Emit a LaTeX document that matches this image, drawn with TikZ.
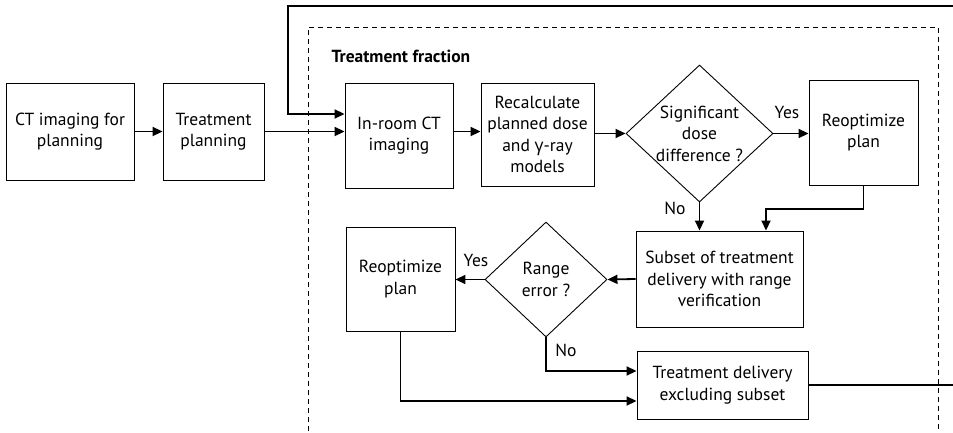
\documentclass[tikz,border=0pt]{standalone}
\usepackage{fontspec}
\setmainfont{PT Sans}
\newfontfamily\greekfont{Open Sans}
\usetikzlibrary{arrows.meta,shapes.geometric}
\begin{document}
\begin{tikzpicture}[x=1pt,y=-1pt,
  every node/.style={font=\fontsize{17.5}{21.5}\selectfont},
  procbox/.style={draw, line width=0.9pt, align=center, inner sep=0pt},
  decision/.style={draw, diamond, line width=0.9pt, inner sep=0pt},
  conn/.style={line width=1.8pt, -{Triangle[length=10pt,width=9pt]}},
  plainline/.style={line width=1.8pt},
  frame/.style={line width=0.8pt, dash pattern=on 5pt off 4pt}
]
\useasboundingbox (0,0) rectangle (953,433);

% treatment fraction frame (open at the bottom)
\draw[frame] (308,440) -- (308,27) -- (938,27) -- (938,440);
\node[anchor=west, font=\fontsize{17.5}{21.5}\selectfont\bfseries] (fractitle) at (328,56) {Treatment fraction};

% process boxes
\node[procbox, minimum width=128pt, minimum height=97pt] (ct) at (70,131.5) {CT imaging for\\planning};
\node[procbox, minimum width=101pt, minimum height=97pt] (tp) at (213.5,131.5) {Treatment\\planning};
\node[procbox, minimum width=108pt, minimum height=105pt] (inroom) at (399,135.5) {In-room CT\\imaging};
\node[procbox, minimum width=113pt, minimum height=103pt] (recalc) at (537.5,134.5) {Recalculate\\planned dose\\and {\greekfont γ}-ray\\models};
\node[decision, minimum width=147pt, minimum height=137pt] (d1) at (699.5,133.5) {};
\node[align=center] (d1text) at (d1) {Significant\\dose\\difference ?};
\node[procbox, minimum width=109pt, minimum height=105pt] (reopta) at (863.5,132.5) {Reoptimize\\plan};
\node[procbox, minimum width=167pt, minimum height=96pt] (subset) at (719.5,279) {Subset of treatment\\delivery with range\\verification};
\node[decision, minimum width=122pt, minimum height=115pt] (d2) at (546,279.5) {};
\node[align=center] (d2text) at (d2) {Range\\error ?};
\node[procbox, minimum width=109pt, minimum height=104pt] (reoptb) at (400.5,279) {Reoptimize\\plan};
\node[procbox, minimum width=171pt, minimum height=68pt] (td) at (722.5,385) {Treatment delivery\\excluding subset};

% branch labels
\node (yesa) at (787,112) {Yes};
\node (noa) at (675,208) {No};
\node (yesb) at (476,260) {Yes};
\node (nob) at (566,350) {No};

% loop ends leaving the picture on the right
\coordinate (tdout) at (953,385);
\coordinate (loopin) at (953,6);
\coordinate (loopcorner) at (288,6);

% connectors
\draw[conn] (ct) -- (tp);
\draw[conn] (tp.east) -- (tp.east -| inroom.west);
\draw[conn] (loopin) -- (loopcorner) -- (loopcorner |- 0,114) -- (inroom.west |- 0,114);
\draw[conn] (inroom.east |- tp.east) -- (recalc.west |- tp.east);
\draw[conn] (recalc.east |- d1.west) -- (d1.west);
\draw[conn] (d1.east) -- (reopta.west |- d1.east);
\draw[conn] (d1.south) -- (d1.south |- subset.north);
\draw[conn] (reopta.south) -- (reopta.south |- 0,209) -| ([xshift=46.5pt]subset.north);
\draw[conn] (subset.west) -- (d2.east);
\draw[conn] (d2.west) -- (reoptb.east |- d2.west);
\draw[conn] (d2.south) |- ([yshift=14pt]td.west);
\draw[conn] (reoptb.south) |- ([yshift=-16pt]td.west);
\draw[plainline] (td.east) -- (tdout);
\end{tikzpicture}
\end{document}
